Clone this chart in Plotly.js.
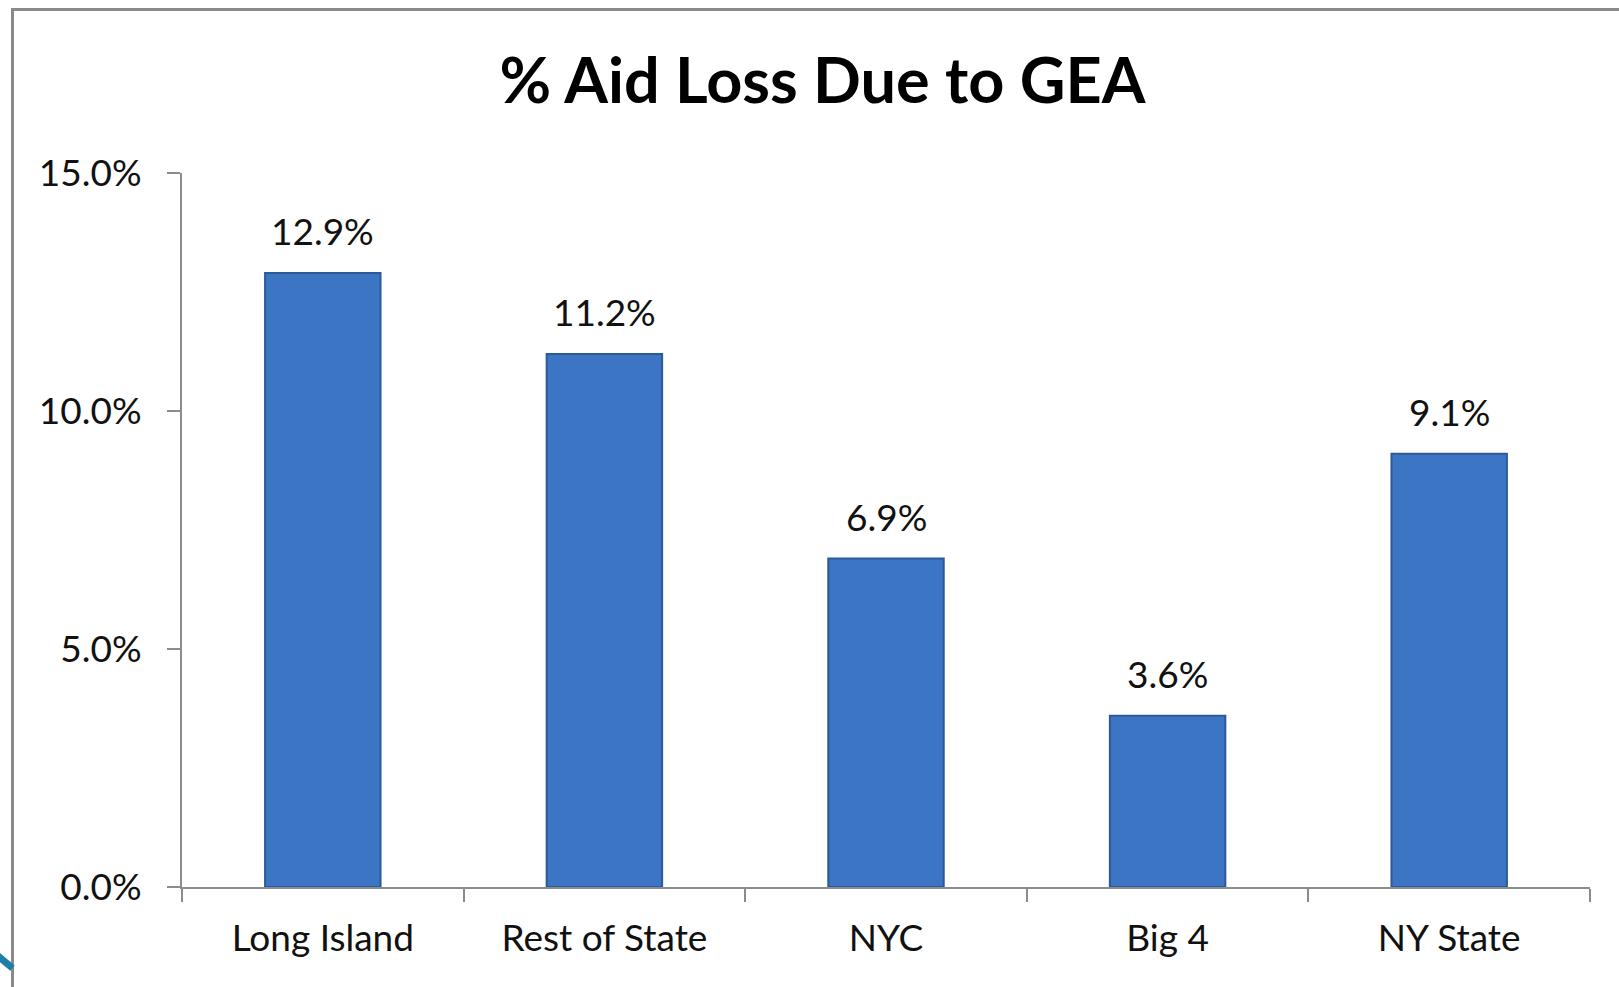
<!DOCTYPE html>
<html>
<head>
<meta charset="utf-8">
<script src="https://cdn.plot.ly/plotly-3.0.1.min.js"></script>
<style>
  html, body { margin: 0; padding: 0; background: #fff; }
  #wrap { position: relative; width: 1619px; height: 987px; overflow: hidden; }
  #chart { position: absolute; left: 0; top: 0; width: 1619px; height: 987px; }
  #frame { position: absolute; left: 11px; top: 8px; width: 1700px; height: 1100px;
           border-left: 3px solid #8a8a8a; border-top: 3px solid #8a8a8a; pointer-events: none; }
  #corner { position: absolute; left: -14px; top: 955px; width: 30px; height: 7px;
            background: #1f7fa8; transform: rotate(40deg); }
</style>
</head>
<body>
<div id="wrap">
  <div id="chart"></div>
  <div id="frame"></div>
  <div id="corner"></div>
</div>
<script>
const categories = ["Long Island", "Rest of State", "NYC", "Big 4", "NY State"];
const values = [12.9, 11.2, 6.9, 3.6, 9.1];
const valueLabels = ["12.9%", "11.2%", "6.9%", "3.6%", "9.1%"];
const yTickVals = [0, 5, 10, 15];
const yTickText = ["0.0%", "5.0%", "10.0%", "15.0%"];

const font = "Lato, 'Open Sans', 'DejaVu Sans', sans-serif";

const trace = {
  type: "bar",
  x: categories,
  y: values,
  marker: { color: "#3B75C4", line: { color: "#2C5A98", width: 2 } },
  hoverinfo: "x+y"
};

const annotations = categories.map((c, i) => ({
  x: c, y: values[i], xref: "x", yref: "y",
  text: valueLabels[i], showarrow: false,
  yanchor: "middle", xanchor: "center", yshift: 42,
  font: { family: font, size: 37, color: "#111" }
}));

const layout = {
  width: 1619,
  height: 987,
  margin: { l: 182, r: 29, t: 173, b: 100 },
  paper_bgcolor: "#ffffff",
  plot_bgcolor: "#ffffff",
  showlegend: false,
  bargap: 0.59,
  annotations: annotations,
  title: {
    text: "<b>% Aid Loss Due to GEA</b>",
    font: { family: font, size: 63, color: "#000" },
    x: 0.508, xanchor: "center",
    y: 0.918, yanchor: "middle"
  },
  xaxis: {
    type: "category",
    showline: true, linecolor: "#8c8c8c", linewidth: 2,
    ticks: "outside", ticklen: 13, tickcolor: "#8c8c8c", tickwidth: 2,
    tickson: "boundaries",
    ticklabelstandoff: 18,
    showgrid: false, zeroline: false,
    tickfont: { family: font, size: 37, color: "#111" },
    automargin: false
  },
  yaxis: {
    range: [0, 15],
    tickvals: yTickVals,
    ticktext: yTickText,
    showline: true, linecolor: "#8c8c8c", linewidth: 2,
    ticks: "outside", ticklen: 13, tickcolor: "#8c8c8c", tickwidth: 2,
    ticklabelstandoff: 18,
    showgrid: false, zeroline: false,
    tickfont: { family: font, size: 37, color: "#111" },
    automargin: false
  }
};

Plotly.newPlot("chart", [trace], layout, { displayModeBar: false, staticPlot: true });
</script>
</body>
</html>
